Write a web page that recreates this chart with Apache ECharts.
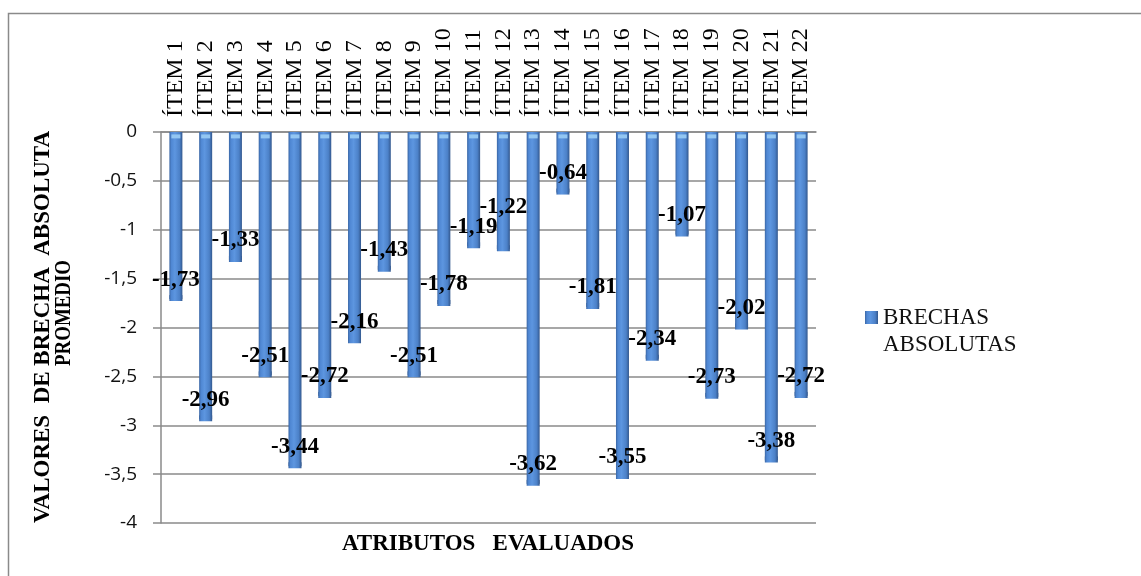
<!DOCTYPE html>
<html>
<head>
<meta charset="utf-8">
<script src="https://cdn.jsdelivr.net/npm/echarts@6/dist/echarts.min.js"></script>
<style>
  html, body { margin: 0; padding: 0; background: #fff; }
  #chart { width: 1141px; height: 576px; }
</style>
</head>
<body>
<div id="chart"></div>
<script>
// Items evaluated and their mean absolute gap
const categories = ['ÍTEM 1','ÍTEM 2','ÍTEM 3','ÍTEM 4','ÍTEM 5','ÍTEM 6','ÍTEM 7','ÍTEM 8','ÍTEM 9','ÍTEM 10','ÍTEM 11',
  'ÍTEM 12','ÍTEM 13','ÍTEM 14','ÍTEM 15','ÍTEM 16','ÍTEM 17','ÍTEM 18','ÍTEM 19','ÍTEM 20','ÍTEM 21','ÍTEM 22'];
const brechas = [-1.73,-2.96,-1.33,-2.51,-3.44,-2.72,-2.16,-1.43,-2.51,-1.78,-1.19,
  -1.22,-3.62,-0.64,-1.81,-3.55,-2.34,-1.07,-2.73,-2.02,-3.38,-2.72];
const seriesName = 'BRECHAS ABSOLUTAS';
const yTitle1 = 'VALORES  DE BRECHA  ABSOLUTA';
const yTitle2 = 'PROMEDIO';
const xTitle = 'ATRIBUTOS   EVALUADOS';

const serif = '"Liberation Serif", "Times New Roman", serif';
const gray = '#8a8a8a';
const comma = v => String(v).replace('.', ',');

const cylinder = new echarts.graphic.LinearGradient(0, 0, 1, 0, [
  { offset: 0, color: '#3a66a4' },
  { offset: 0.15, color: '#4f87d3' },
  { offset: 0.42, color: '#5d96e0' },
  { offset: 0.78, color: '#4c81c8' },
  { offset: 1, color: '#33588e' }
]);

// ÍTEM 12's value label is lifted so it clears the label of ÍTEM 11
const barData = brechas.map((v, i) =>
  categories[i] === 'ÍTEM 12' ? { value: v, label: { offset: [0, -23] } } : v);

const chart = echarts.init(document.getElementById('chart'), null, { renderer: 'canvas' });
chart.setOption({
  animation: false,
  backgroundColor: '#fff',
  grid: { left: 161, right: 325, top: 132, bottom: 53 },
  legend: {
    data: [seriesName],
    orient: 'vertical',
    left: 865,
    top: 277,
    padding: 0,
    icon: 'rect',
    itemWidth: 13,
    itemHeight: 13,
    // leading blank line keeps the swatch level with the first line of text
    formatter: () => '\nBRECHAS\nABSOLUTAS',
    textStyle: { fontFamily: serif, fontSize: 23, lineHeight: 27, color: '#111' }
  },
  xAxis: {
    type: 'category',
    position: 'top',
    data: categories,
    axisLine: { lineStyle: { color: gray, width: 1.5 } },
    axisTick: { length: 6, lineStyle: { color: gray, width: 1.5 } },
    axisLabel: { rotate: 90, interval: 0, margin: 15, fontFamily: serif, fontSize: 24, color: '#000' }
  },
  yAxis: {
    type: 'value',
    min: -4,
    max: 0,
    interval: 0.5,
    axisLine: { show: true, lineStyle: { color: gray, width: 1.5 } },
    axisTick: { show: true, length: 8, lineStyle: { color: gray, width: 1.5 } },
    splitLine: { lineStyle: { color: gray, width: 1.5 } },
    axisLabel: { margin: 24, fontFamily: '"Open Sans", "Noto Sans", sans-serif', fontSize: 19, color: '#111', formatter: comma }
  },
  graphic: [
    { type: 'rect', silent: true, shape: { x: 8.5, y: 13.5, width: 1300, height: 800 },
      style: { fill: 'none', stroke: gray, lineWidth: 1.5 } },
    { type: 'text', x: 43, y: 327, rotation: Math.PI / 2,
      style: { text: yTitle1, font: 'bold 23px ' + serif, fill: '#000', textAlign: 'center', textVerticalAlign: 'middle' } },
    { type: 'text', x: 64, y: 313, rotation: Math.PI / 2, scaleX: 0.82,
      style: { text: yTitle2, font: 'bold 23px ' + serif, fill: '#000', textAlign: 'center', textVerticalAlign: 'middle' } },
    { type: 'text', x: 488, y: 544,
      style: { text: xTitle, font: 'bold 23px ' + serif, fill: '#000', textAlign: 'center', textVerticalAlign: 'middle' } }
  ],
  series: [
    {
      name: seriesName,
      type: 'bar',
      data: barData,
      barWidth: 13,
      itemStyle: { color: cylinder },
      label: {
        show: true,
        position: 'insideBottom',
        distance: 10,
        fontFamily: serif,
        fontWeight: 'bold',
        fontSize: 23,
        color: '#000',
        formatter: p => comma(p.value.toFixed(2))
      },
      z: 2
    },
    {
      // light rim at the top of each column
      type: 'pictorialBar',
      data: brechas,
      symbol: 'rect',
      symbolPosition: 'start',
      symbolSize: [9, 4],
      symbolOffset: [0, '60%'],
      itemStyle: { color: '#93c6f2' },
      silent: true,
      z: 3
    },
    {
      // darker rim at the base of each column
      type: 'pictorialBar',
      data: brechas,
      symbol: 'rect',
      symbolPosition: 'end',
      symbolSize: [13, 4],
      symbolOffset: [0, '-50%'],
      itemStyle: { color: '#395d93' },
      silent: true,
      z: 1.5
    }
  ]
});
</script>
</body>
</html>
